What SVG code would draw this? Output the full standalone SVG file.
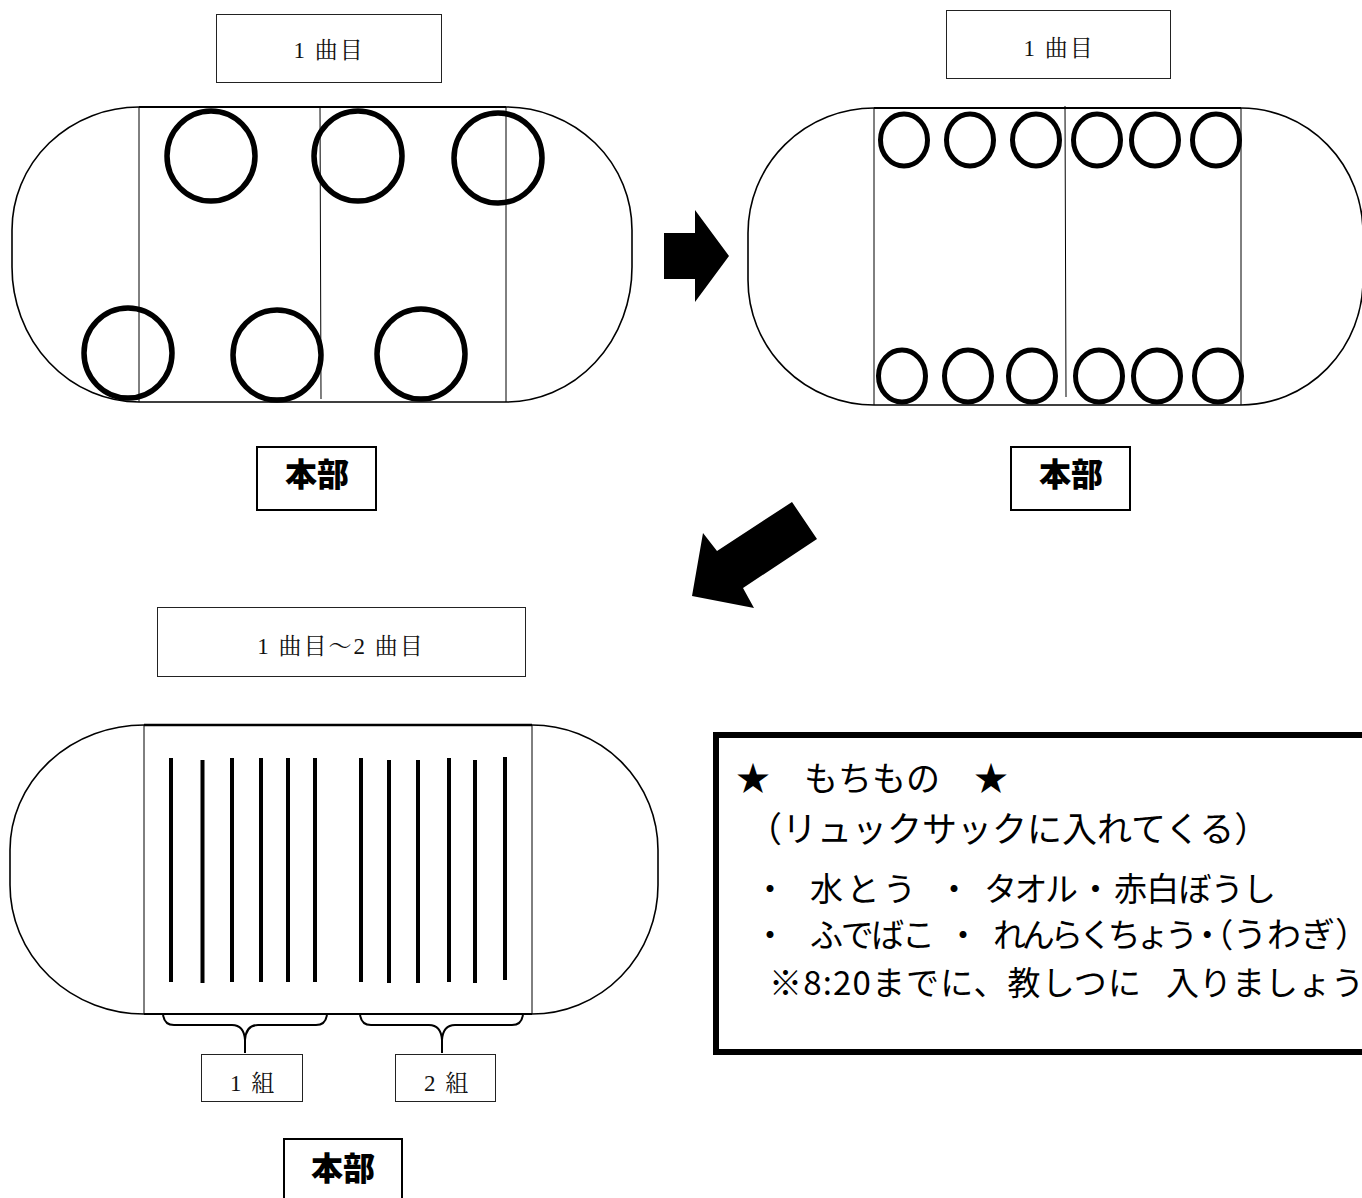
<svg xmlns="http://www.w3.org/2000/svg" width="1362" height="1198" viewBox="0 0 1362 1198">
<style>
.lbl{fill:#fff;stroke:#222;stroke-width:1}
.lt{font-family:"Liberation Serif","Noto Serif CJK JP","Noto Sans CJK JP",serif;font-size:23px;fill:#111;text-anchor:middle;letter-spacing:2px}
.hb{fill:#fff;stroke:#000;stroke-width:2}
.ht{font-family:"Noto Sans CJK JP",sans-serif;font-weight:900;font-size:32px;fill:#000;text-anchor:middle}
.trk{fill:none;stroke:#000;stroke-width:1.6}
.div{fill:none;stroke:#000;stroke-width:1}
.p1{fill:none;stroke:#000;stroke-width:5.5}
.p2{fill:none;stroke:#000;stroke-width:5}
.row{stroke:#000;stroke-width:4}
.brace{fill:none;stroke:#000;stroke-width:2}
.arrow{fill:#000}
.info{font-family:"Noto Sans CJK JP",sans-serif;fill:#000}
.palt{font-feature-settings:"palt"}
</style>

<g id="label-1">
<rect class="lbl" x="216.5" y="14.5" width="225" height="68"/>
<text class="lt" x="329" y="58">1 曲目</text>
</g>
<g id="label-2">
<rect class="lbl" x="946.5" y="10.5" width="224" height="68"/>
<text class="lt" x="1059" y="56">1 曲目</text>
</g>
<g id="label-3">
<rect class="lbl" x="157.5" y="607.5" width="368" height="69"/>
<text class="lt" x="341" y="654">1 曲目〜2 曲目</text>
</g>

<g id="track-1">
<path class="trk" d="M139,107 A127,123 0 0 0 12,230 L12,267 A127,135 0 0 0 139,402 L506,402 A126,135 0 0 0 632,267 L632,230 A126,123 0 0 0 506,107 Z"/>
<line class="trk" x1="139" y1="107" x2="506" y2="107" style="stroke-width:2.2"/>
<line class="div" x1="139" y1="107" x2="139" y2="402"/>
<line class="div" x1="506" y1="107" x2="506" y2="402"/>
<line class="div" x1="320" y1="107" x2="321" y2="399"/>
<ellipse class="p1" cx="211" cy="156" rx="44" ry="45"/>
<ellipse class="p1" cx="358" cy="156" rx="44" ry="45"/>
<ellipse class="p1" cx="498" cy="158" rx="44" ry="45"/>
<ellipse class="p1" cx="128" cy="353" rx="44" ry="45"/>
<ellipse class="p1" cx="277" cy="355" rx="44" ry="45"/>
<ellipse class="p1" cx="421" cy="354" rx="44" ry="45"/>
</g>

<g id="track-2">
<path class="trk" d="M874,108 A126,125 0 0 0 748,233 L748,280 A126,125 0 0 0 874,405 L1241,405 A122,125 0 0 0 1363,280 L1363,233 A122,125 0 0 0 1241,108 Z"/>
<line class="trk" x1="874" y1="108" x2="1241" y2="108" style="stroke-width:2.2"/>
<line class="div" x1="874" y1="108" x2="874" y2="405"/>
<line class="div" x1="1241" y1="108" x2="1241" y2="405"/>
<line class="div" x1="1065" y1="106" x2="1066" y2="397"/>
<ellipse class="p2" cx="904" cy="140" rx="23.5" ry="26"/>
<ellipse class="p2" cx="970" cy="140" rx="23.5" ry="26"/>
<ellipse class="p2" cx="1036" cy="140" rx="23.5" ry="26"/>
<ellipse class="p2" cx="1097" cy="140" rx="23.5" ry="26"/>
<ellipse class="p2" cx="1155" cy="140" rx="23.5" ry="26"/>
<ellipse class="p2" cx="1216" cy="140" rx="23.5" ry="26"/>
<ellipse class="p2" cx="902" cy="376" rx="23.5" ry="26"/>
<ellipse class="p2" cx="968" cy="376" rx="23.5" ry="26"/>
<ellipse class="p2" cx="1032" cy="376" rx="23.5" ry="26"/>
<ellipse class="p2" cx="1099" cy="376" rx="23.5" ry="26"/>
<ellipse class="p2" cx="1157" cy="376" rx="23.5" ry="26"/>
<ellipse class="p2" cx="1218" cy="376" rx="23.5" ry="26"/>
</g>

<g id="track-3">
<path class="trk" d="M144,725 A134,125 0 0 0 10,850 L10,885 A134,129 0 0 0 144,1014 L532,1014 A126,129 0 0 0 658,885 L658,850 A126,125 0 0 0 532,725 Z"/>
<line class="trk" x1="144" y1="725" x2="532" y2="725" style="stroke-width:2.6"/>
<line class="trk" x1="144" y1="1014" x2="532" y2="1014" style="stroke-width:2"/>
<line class="div" x1="144" y1="725" x2="144" y2="1014"/>
<line class="div" x1="532" y1="725" x2="532" y2="1014"/>
<line class="row" x1="171" y1="758" x2="171" y2="982"/>
<line class="row" x1="202.5" y1="760" x2="202.5" y2="983"/>
<line class="row" x1="232" y1="758" x2="232" y2="982"/>
<line class="row" x1="261" y1="758" x2="261" y2="982"/>
<line class="row" x1="288" y1="758" x2="288" y2="982"/>
<line class="row" x1="315" y1="758" x2="315" y2="982"/>
<line class="row" x1="361" y1="758" x2="361" y2="982"/>
<line class="row" x1="389" y1="760" x2="389" y2="983"/>
<line class="row" x1="418" y1="760" x2="418" y2="983"/>
<line class="row" x1="449" y1="758" x2="449" y2="982"/>
<line class="row" x1="475" y1="760" x2="475" y2="983"/>
<line class="row" x1="505" y1="757" x2="505" y2="980"/>
</g>

<g id="group-1">
<rect class="lbl" x="201.5" y="1054.5" width="101" height="47"/>
<text class="lt" x="253" y="1091">1 組</text>
</g>
<g id="group-2">
<rect class="lbl" x="395.5" y="1054.5" width="100" height="47"/>
<text class="lt" x="447" y="1091">2 組</text>
</g>

<g id="honbu-1">
<rect class="hb" x="257" y="447" width="119" height="63"/>
<text class="ht" x="317" y="486">本部</text>
</g>
<g id="honbu-2">
<rect class="hb" x="1011" y="447" width="119" height="63"/>
<text class="ht" x="1071" y="486">本部</text>
</g>
<g id="honbu-3">
<rect class="hb" x="284" y="1139" width="118" height="70"/>
<text class="ht" x="343" y="1180">本部</text>
</g>

<g id="info">
<rect x="716" y="735" width="660" height="317" fill="#fff" stroke="#000" stroke-width="6"/>
<text class="info" font-size="34" x="736" y="791">★　もちもの　★</text>
<text class="info" font-size="35" x="747" y="842">（リュックサックに入れてくる）</text>
<text class="info" font-size="33" y="901"><tspan x="753.5">・</tspan><tspan x="810" textLength="106">水とう</tspan><tspan x="937.5">・</tspan><tspan x="984" textLength="94">タオル</tspan><tspan x="1079">・</tspan><tspan x="1114" textLength="162">赤白ぼうし</tspan></text>
<text class="info" font-size="33" y="947"><tspan x="753.5">・</tspan><tspan x="810" textLength="125">ふでばこ</tspan><tspan x="946.5">・</tspan><tspan x="993" textLength="205">れんらくちょう</tspan><tspan class="palt" x="1199">・（</tspan><tspan x="1233" font-size="34">うわぎ）</tspan></text>
<text class="info" font-size="33" y="995"><tspan x="769" textLength="372">※8:20までに、教しつに</tspan><tspan x="1166">入りましょう</tspan></text>
</g>

<g id="connectors">
<path class="brace" d="M163,1014 Q164,1025 174,1025 L232,1025 Q244,1025 245,1040 L245,1053 M245,1040 Q246,1025 258,1025 L316,1025 Q326,1025 327,1014"/>
<path class="brace" d="M360,1014 Q361,1025 371,1025 L429,1025 Q441,1025 442,1040 L442,1053 M442,1040 Q443,1025 455,1025 L512,1025 Q522,1025 523,1014"/>
<polygon class="arrow" points="664,233 695,233 695,210 729,256 695,302 695,279 664,279"/>
<polygon class="arrow" points="792,502 817,539 743,588 754,608 692,596 703,533 717,551"/>
</g>
</svg>
